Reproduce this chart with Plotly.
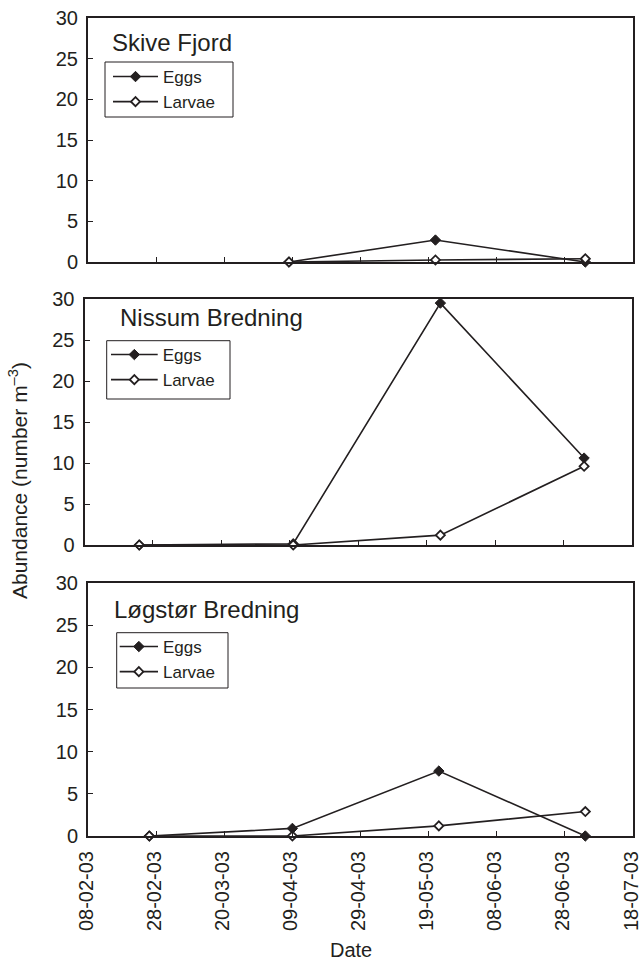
import pandas as pd
import plotly.graph_objects as go

# Sampling dates and abundances (number m^-3) per station
skive_dates = ["2003-04-08", "2003-05-21", "2003-07-04"]
skive_eggs = [0.0, 2.7, 0.0]
skive_larvae = [0.0, 0.25, 0.4]

nissum_dates = ["2003-02-24", "2003-04-10", "2003-05-23", "2003-07-04"]
nissum_eggs = [0.0, 0.15, 29.5, 10.6]
nissum_larvae = [0.0, 0.0, 1.2, 9.6]

logstor_dates = ["2003-02-26", "2003-04-09", "2003-05-22", "2003-07-04"]
logstor_eggs = [0.0, 0.9, 7.7, 0.0]
logstor_larvae = [0.0, 0.0, 1.2, 2.9]

panel_names = ["Skive Fjord", "Nissum Bredning", "Løgstør Bredning"]
series_names = ["Eggs", "Larvae"]

tick_dates = pd.date_range("2003-02-08", "2003-07-18", freq="20D")
tick_text = [d.strftime("%d-%m-%y") for d in tick_dates]
y_ticks = [0, 5, 10, 15, 20, 25, 30]

INK = "#231f20"
FONT = "Liberation Sans, Arial, Helvetica, sans-serif"

fig = go.Figure()

panels = [
    (skive_dates, skive_eggs, skive_larvae),
    (nissum_dates, nissum_eggs, nissum_larvae),
    (logstor_dates, logstor_eggs, logstor_larvae),
]
legend_ids = ["legend", "legend2", "legend3"]

for i, (dates, eggs, larvae) in enumerate(panels):
    xa = "x" if i == 0 else f"x{i+1}"
    ya = "y" if i == 0 else f"y{i+1}"
    fig.add_trace(go.Scatter(
        x=dates, y=eggs, name=series_names[0], xaxis=xa, yaxis=ya,
        mode="lines+markers", legend=legend_ids[i], cliponaxis=False,
        line=dict(color=INK, width=1.6),
        marker=dict(symbol="diamond", size=8, color=INK,
                    line=dict(color=INK, width=1)),
    ))
    fig.add_trace(go.Scatter(
        x=dates, y=larvae, name=series_names[1], xaxis=xa, yaxis=ya,
        mode="lines+markers", legend=legend_ids[i], cliponaxis=False,
        line=dict(color=INK, width=1.6),
        marker=dict(symbol="diamond", size=7, color="white",
                    line=dict(color=INK, width=1.8)),
    ))

# Plot area: left 84 px, right 633 px, top 18 px, bottom 836 px
W, H = 640, 978
L, R, T, B = 84, 7, 18, 142
pw = W - L - R
ph = H - T - B

def xf(px):
    return (px - L) / pw

def yf(py):
    return (H - B - py) / ph

x_domains = [[xf(88), 1.0], [xf(84.5), xf(632)], [xf(88), 1.0]]
y_domains = [[yf(262), yf(18)], [yf(545), yf(299)], [yf(836), yf(583)]]

axis_common = dict(
    showline=True, linewidth=2, linecolor=INK, mirror=True,
    showgrid=False, zeroline=False, automargin=False,
    ticks="inside", ticklen=5, tickwidth=1, tickcolor=INK,
    tickfont=dict(family=FONT, size=20, color=INK),
)

layout = {}
for i in range(3):
    xk = "xaxis" if i == 0 else f"xaxis{i+1}"
    yk = "yaxis" if i == 0 else f"yaxis{i+1}"
    ya = "y" if i == 0 else f"y{i+1}"
    xa = "x" if i == 0 else f"x{i+1}"
    layout[xk] = dict(
        axis_common, type="date", range=["2003-02-08", "2003-07-18"],
        tickvals=list(tick_dates), ticktext=tick_text,
        showticklabels=(i == 2), tickangle=-90, ticklabelstandoff=5,
        ticklabeloverflow="allow", ticklabelshift=-2,
        domain=x_domains[i], anchor=ya,
    )
    layout[yk] = dict(
        axis_common, range=[0, 30], tickvals=y_ticks,
        ticklabelstandoff=4, domain=y_domains[i], anchor=xa,
    )

# Legend entries (no frame) and their framing boxes, in pixels
legend_pos = [(108, 59), (106, 337), (114.7, 629)]
legend_itemwidth = [45, 46.7, 38.3]
legend_boxes = [(105, 62, 233, 117), (106.7, 340.7, 230, 399), (116.7, 632.7, 228, 688)]
for i, lid in enumerate(legend_ids):
    layout[lid] = dict(
        x=xf(legend_pos[i][0]), y=yf(legend_pos[i][1]),
        xanchor="left", yanchor="top",
        bgcolor="rgba(0,0,0,0)", borderwidth=0,
        font=dict(family=FONT, size=17, color=INK),
        tracegroupgap=0, itemwidth=legend_itemwidth[i],
    )

fig.update_layout(
    width=W, height=H,
    margin=dict(l=L, r=R, t=T, b=B, pad=0, autoexpand=False),
    paper_bgcolor="white", plot_bgcolor="white",
    font=dict(family=FONT, color=INK),
    showlegend=True,
    **layout,
)

for x0, y0, x1, y1 in legend_boxes:
    fig.add_shape(
        type="rect", xref="paper", yref="paper",
        x0=xf(x0), x1=xf(x1), y0=yf(y1), y1=yf(y0),
        line=dict(color=INK, width=1), fillcolor="white", layer="above",
    )

title_pos = [(xf(110), yf(42)), (xf(118), yf(317)), (xf(111.7), yf(609))]
for i, name in enumerate(panel_names):
    fig.add_annotation(
        text=name, xref="paper", yref="paper",
        x=title_pos[i][0], y=title_pos[i][1], xanchor="left", yanchor="middle",
        showarrow=False, font=dict(family=FONT, size=24, color=INK),
    )

fig.add_annotation(
    text="Abundance (number m<sup>–3</sup>)", xref="paper", yref="paper",
    x=xf(18), y=yf(481), xanchor="center", yanchor="middle", textangle=-90,
    showarrow=False, font=dict(family=FONT, size=21, color=INK),
)
fig.add_annotation(
    text="Date", xref="paper", yref="paper",
    x=xf(351), y=yf(950), xanchor="center", yanchor="middle",
    showarrow=False, font=dict(family=FONT, size=20, color=INK),
)

fig.write_html("out.html")
